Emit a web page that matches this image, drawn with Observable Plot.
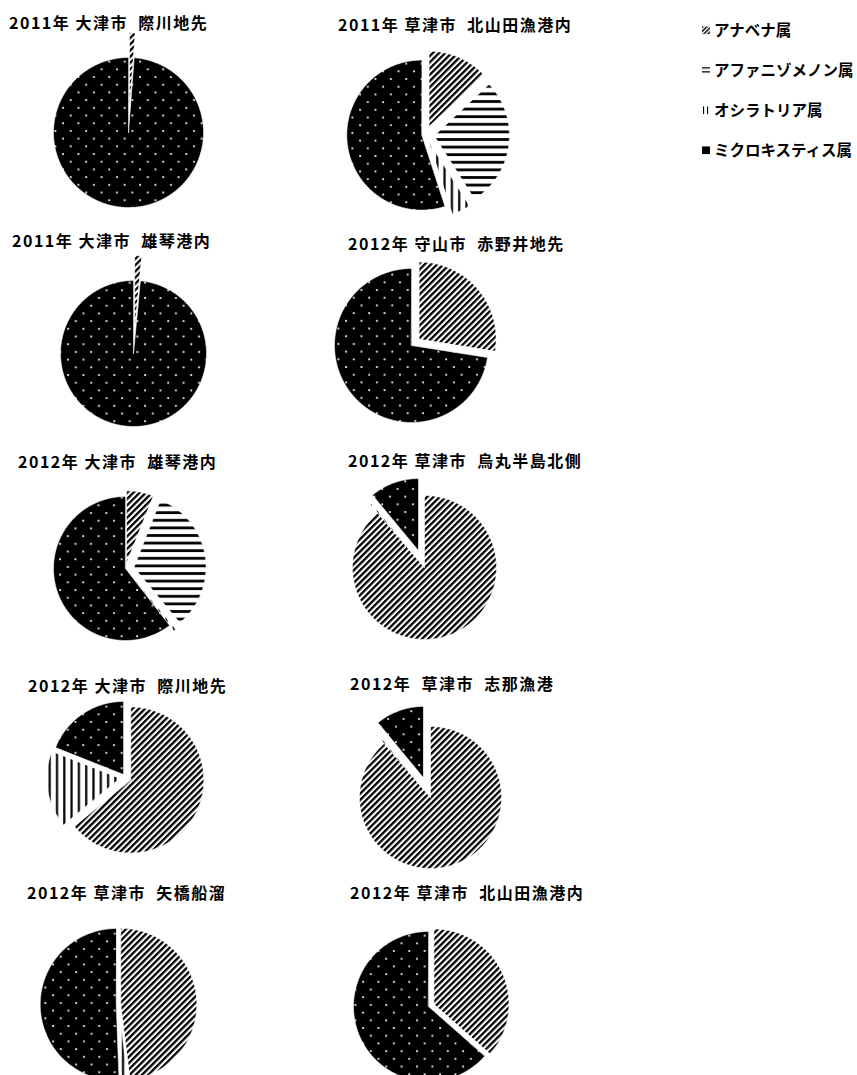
<!DOCTYPE html>
<html>
<head>
<meta charset="utf-8">
<script src="https://cdn.jsdelivr.net/npm/d3@7"></script>
<script src="https://cdn.jsdelivr.net/npm/@observablehq/plot@0.6"></script>
<style>
  html, body { margin: 0; padding: 0; background: white; }
  #root { position: relative; width: 857px; height: 1075px; overflow: hidden; background: white; }
  .ttl { position: absolute; white-space: pre; font-family: "Noto Sans CJK JP", sans-serif; font-weight: bold; font-size: 16px; letter-spacing: 1.5px; color: #000; line-height: 1; transform: translateY(-50%); }
  .chart { position: absolute; }
  .leg { position: absolute; left: 702px; font-family: "Noto Sans CJK JP", sans-serif; font-weight: bold; font-size: 15.5px; display: flex; align-items: center; transform: translateY(-50%); line-height: 1; }
  .leg svg { margin-right: 4px; }
</style>
</head>
<body>
<svg width="0" height="0" style="position:absolute">
  <defs>
    <pattern id="pAna" patternUnits="userSpaceOnUse" width="4.4" height="4.4" patternTransform="rotate(45)">
      <rect width="4.4" height="4.4" fill="white"/>
      <rect width="2.3" height="4.4" fill="black"/>
    </pattern>
    <pattern id="pAph" patternUnits="userSpaceOnUse" width="8" height="7.6">
      <rect width="8" height="7.6" fill="white"/>
      <rect y="2" width="8" height="2.8" fill="black"/>
    </pattern>
    <pattern id="pOsc" patternUnits="userSpaceOnUse" width="7.3" height="8">
      <rect width="7.3" height="8" fill="white"/>
      <rect x="2" width="2.2" height="8" fill="black"/>
    </pattern>
    <pattern id="pMic" patternUnits="userSpaceOnUse" width="15.4" height="15.4">
      <rect width="15.4" height="15.4" fill="black"/>
      <circle cx="3" cy="3" r="1.1" fill="#f0f0f0"/>
      <circle cx="10.7" cy="10.7" r="1.1" fill="#f0f0f0"/>
    </pattern>
    <pattern id="sAna" patternUnits="userSpaceOnUse" width="3" height="3" patternTransform="rotate(45)">
      <rect width="3" height="3" fill="white"/>
      <rect width="1.5" height="3" fill="black"/>
    </pattern>
    <pattern id="sAph" patternUnits="userSpaceOnUse" width="8" height="4">
      <rect width="8" height="4" fill="white"/>
      <rect y="1" width="8" height="1.3" fill="black"/>
    </pattern>
    <pattern id="sOsc" patternUnits="userSpaceOnUse" width="4" height="8">
      <rect width="4" height="8" fill="white"/>
      <rect x="1" width="1.1" height="8" fill="black"/>
    </pattern>
  </defs>
</svg>
<div id="root"></div>
<script>
// ---- data ----
const sites = [
  "2011年 大津市  際川地先",
  "2011年 草津市  北山田漁港内",
  "2011年 大津市  雄琴港内",
  "2012年 守山市  赤野井地先",
  "2012年 大津市  雄琴港内",
  "2012年 草津市  烏丸半島北側",
  "2012年 大津市  際川地先",
  "2012年  草津市  志那漁港",
  "2012年 草津市  矢橋船溜",
  "2012年 草津市  北山田漁港内"
];
const genera = ["アナベナ属", "アファニゾメノン属", "オシラトリア属", "ミクロキスティス属"];
// percentage composition (clockwise from 12 o'clock)
const anabaena      = [1.2, 13, 1.5, 27.5, 6,   88.7, 64, 88.7, 48,  36.5];
const aphanizomenon = [0,   28, 0,   0,    33,  0,    0,  0,    0,   0];
const oscillatoria  = [0,   4,  0,   0,    0.5, 0.3,  17, 0.3,  1.4, 0];
const microcystis   = [98.8, 55, 98.5, 72.5, 60.5, 11, 19, 11,  50.6, 63.5];

// ---- layout & style (not data) ----
const pieCX = [128, 425, 133, 411, 125, 424, 125, 430, 118, 428];
const pieCY = [132, 134, 353, 345, 568, 567, 777, 797, 1004, 1006];
const pieR  = [75, 75, 73, 77, 72, 72, 73, 71, 76, 75];
const titleX = [9, 338, 12, 348, 18, 348, 28, 350, 27, 350];
const titleY = [22, 24, 240, 243, 461, 460, 685, 683, 892, 892];
const explodeAna = [0.33, 0.12, 0.34, 0.13, 0.08, 0,    0.08, 0,    0.03, 0.08];
const explodeAph = [0,    0.12, 0,    0,    0.12, 0,    0,    0,    0,    0];
const explodeOsc = [0,    0.12, 0,    0,    0.10, 0.15, 0.08, 0.15, 0.03, 0];
const explodeMic = [0,    0.05, 0,    0,    0,    0.25, 0.05, 0.30, 0.03, 0];
const patterns = ["url(#pAna)", "url(#pAph)", "url(#pOsc)", "url(#pMic)"];
const swatches = ["url(#sAna)", "url(#sAph)", "url(#sOsc)", "black"];
const explode = [explodeAna, explodeAph, explodeOsc, explodeMic];
const legendY = [30, 70, 110, 150];

const root = document.getElementById("root");
const W = 260, H = 240;

sites.forEach((site, i) => {
  const values = [anabaena[i], aphanizomenon[i], oscillatoria[i], microcystis[i]];
  const arcs = d3.pie().sort(null).value(d => d)(values);
  const pts = [];
  arcs.forEach((a, k) => {
    if (!(a.value > 0)) return;
    const mid = (a.startAngle + a.endAngle) / 2;
    const off = explode[k][i];
    const ox = off * Math.sin(mid), oy = -off * Math.cos(mid);
    pts.push({genus: genera[k], x: ox, y: oy});
    const n = Math.max(2, Math.ceil((a.endAngle - a.startAngle) / 0.01));
    for (let j = 0; j <= n; j++) {
      const t = a.startAngle + (a.endAngle - a.startAngle) * j / n;
      pts.push({genus: genera[k], x: ox + Math.sin(t), y: oy - Math.cos(t)});
    }
  });
  const r = pieR[i];
  const svg = Plot.plot({
    width: W, height: H, margin: 0,
    x: {domain: [-W / 2 / r, W / 2 / r], axis: null},
    y: {domain: [H / 2 / r, -H / 2 / r], axis: null},
    style: {background: "transparent", overflow: "visible"},
    marks: genera.map((g, k) => Plot.line(pts.filter(p => p.genus === g), {
      x: "x", y: "y", fill: patterns[k], stroke: "white", strokeWidth: 0.6, curve: "linear-closed"
    }))
  });
  const div = document.createElement("div");
  div.className = "chart";
  div.style.left = (pieCX[i] - W / 2) + "px";
  div.style.top = (pieCY[i] - H / 2) + "px";
  div.appendChild(svg);
  root.appendChild(div);

  const t = document.createElement("div");
  t.className = "ttl";
  t.style.left = titleX[i] + "px";
  t.style.top = titleY[i] + "px";
  t.textContent = site;
  root.appendChild(t);
});

genera.forEach((g, k) => {
  const d = document.createElement("div");
  d.className = "leg";
  d.style.top = legendY[k] + "px";
  d.innerHTML = `<svg width="8" height="8"><rect width="8" height="8" fill="${swatches[k]}"/></svg><span>${g}</span>`;
  root.appendChild(d);
});
</script>
</body>
</html>
